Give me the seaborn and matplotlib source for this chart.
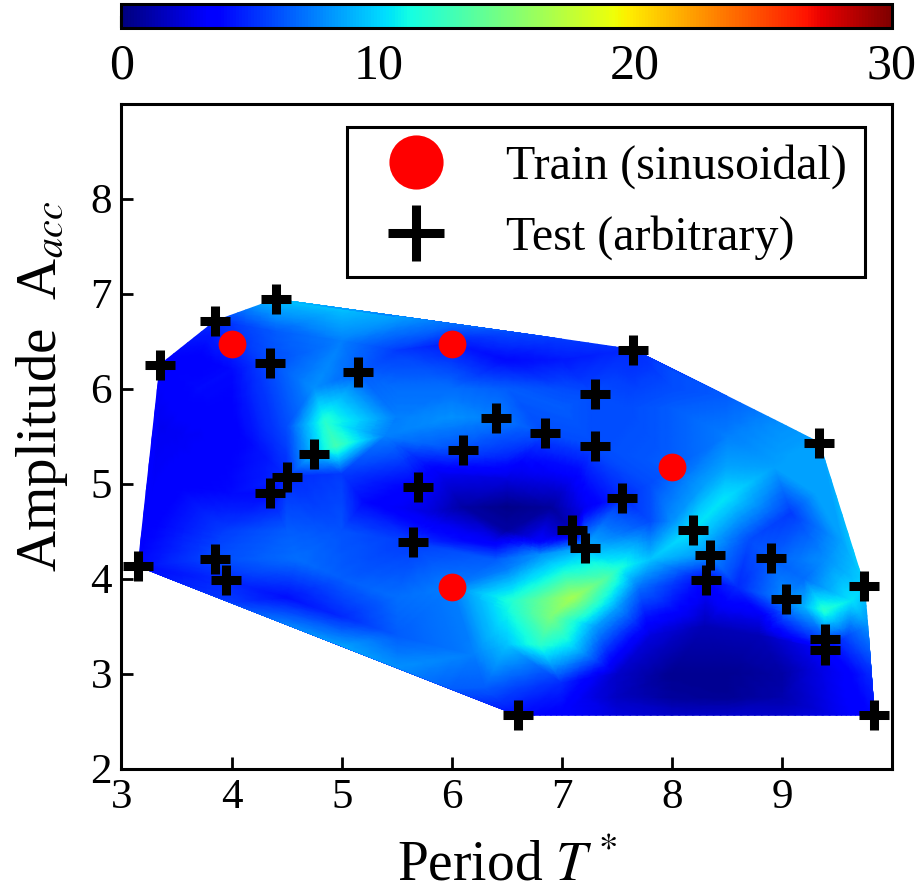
import matplotlib
matplotlib.use("Agg")
import matplotlib.pyplot as plt
import matplotlib.tri as mtri
import numpy as np
import pandas as pd
import seaborn as sns
from matplotlib.lines import Line2D

# Train / test points, with the field value read at each of them
train_x = [4.0, 6.0, 8.0, 6.0]
train_y = [6.47, 6.47, 5.17, 3.91]
train_val = [5.0, 4.5, 6.5, 7.5]

test_x = [4.40, 3.85, 3.35, 4.35, 5.15, 6.40, 4.75, 6.10, 4.50, 4.35, 5.69,
          5.65, 3.85, 3.15, 3.95, 6.60, 7.65, 7.30, 6.85, 7.30, 9.34, 7.55,
          7.09, 7.21, 8.19, 8.35, 8.90, 8.31, 9.04, 9.75, 9.39, 9.39, 9.84]
test_y = [6.94, 6.71, 6.25, 6.27, 6.17, 5.69, 5.31, 5.35, 5.07, 4.90, 4.96,
          4.38, 4.21, 4.13, 3.98, 2.56, 6.41, 5.94, 5.53, 5.40, 5.43, 4.85,
          4.51, 4.32, 4.51, 4.25, 4.22, 3.98, 3.78, 3.92, 3.36, 3.25, 2.56]
test_val = [9.5, 5.0, 3.5, 6.0, 6.5, 7.5, 9.5, 6.0, 5.0, 4.0, 3.5,
            5.5, 6.0, 4.0, 5.0, 4.0, 5.0, 6.0, 6.0, 6.0, 8.5, 5.0,
            1.5, 9.0, 10.5, 8.0, 6.5, 3.8, 8.0, 10.0, 6.0, 3.5, 4.0]

# Extra readings of the colour field between the points
extra_x = [4.85, 4.95, 4.5, 5.4, 4.75, 5.0, 3.6, 3.5, 4.0, 3.7, 3.35, 3.25,
           4.0, 3.9, 4.5, 4.6, 4.0, 4.5, 5.0, 5.5, 6.0, 4.5, 5.0, 5.5, 5.0,
           5.5, 5.0, 5.2, 6.5, 6.5, 6.2, 6.3, 6.5, 7.1, 6.9, 6.8, 6.57, 7.53,
           7.4, 6.4, 6.8, 6.8, 6.4, 7.0, 7.1, 7.3, 7.5, 7.7, 7.5, 8.0, 8.5,
           9.0, 7.8, 8.3, 8.8, 9.3, 9.6, 7.0, 7.2, 7.0, 7.5, 8.0, 8.5, 9.0,
           9.5, 8.0, 8.5, 9.0, 7.5, 8.47, 8.0, 8.93, 9.3, 9.08, 9.54, 9.4,
           8.5, 8.0, 7.8, 8.0, 8.5, 9.0, 8.5, 8.3, 7.8, 7.8, 9.38, 9.63,
           9.78, 9.81, 9.6, 9.6, 9.2, 9.2, 8.6, 8.7, 8.8, 6.5, 6.1, 6.9, 6.5,
           6.5, 5.8, 7.2, 6.5, 5.9, 5.0, 5.5, 6.0, 6.5, 7.0, 5.0, 5.5, 6.5,
           7.0, 7.0, 6.5, 6.0, 5.5, 5.5, 6.0, 7.0, 7.6, 8.0, 4.0, 3.7, 4.4]
extra_y = [5.65, 5.4, 5.6, 5.5, 6.0, 5.1, 5.5, 5.0, 5.6, 6.0, 5.6, 4.6,
           4.9, 4.5, 4.5, 4.2, 3.75, 3.52, 3.29, 3.07, 2.84, 3.8, 3.6, 3.4,
           4.0, 3.8, 4.5, 4.8, 3.64, 3.3, 3.2, 2.85, 4.1, 3.8, 3.6, 3.3, 3.77,
           4.12, 4.0, 4.4, 4.4, 4.25, 4.2, 4.1, 3.28, 3.5, 3.7, 3.9, 3.0, 3.0,
           3.0, 3.0, 3.4, 3.5, 3.4, 3.05, 3.0, 2.9, 2.75, 2.56, 2.56, 2.56,
           2.56, 2.56, 2.56, 2.75, 2.75, 2.75, 2.75, 4.83, 4.6, 5.17, 4.9,
           4.69, 4.4, 4.2, 5.5, 5.8, 5.0, 6.2, 5.92, 5.63, 5.2, 5.0, 4.6, 4.2,
           3.67, 3.77, 3.5, 3.0, 3.4, 2.9, 3.7, 4.0, 3.9, 4.4, 3.6, 4.75, 4.75,
           4.75, 4.5, 5.05, 4.7, 4.75, 5.3, 5.1, 6.84, 6.76, 6.68, 6.6, 6.52,
           6.5, 6.4, 6.3, 6.3, 6.0, 6.0, 6.0, 6.0, 5.7, 5.7, 5.8, 5.8, 6.0,
           6.2, 6.3, 6.6]
extra_val = [12.0, 13.0, 6.0, 7.5, 8.0, 5.5, 3.2, 3.5, 3.5, 4.0, 3.0, 3.5,
             4.0, 5.5, 6.5, 7.0, 5.5, 7.5, 8.5, 8.0, 6.5, 4.2, 5.0, 6.5,
             6.5, 7.0, 6.2, 4.0, 11.0, 9.5, 7.5, 6.5, 7.5, 16.5, 15.0, 12.0,
             12.0, 11.5, 13.5, 3.0, 3.5, 8.0, 6.5, 11.0, 10.0, 8.5, 8.5, 7.0,
             2.0, 0.5, 0.5, 1.0, 2.5, 1.5, 1.5, 2.5, 3.5, 5.0, 3.0, 3.5, 2.5,
             2.0, 2.0, 2.0, 3.0, 0.8, 0.6, 1.2, 1.8, 10.5, 8.0, 8.5, 8.5, 5.5,
             8.5, 8.0, 7.5, 6.5, 6.0, 6.0, 6.5, 8.0, 8.5, 8.5, 6.0, 9.5, 12.0,
             10.5, 8.0, 5.0, 6.0, 3.5, 9.0, 7.0, 5.0, 6.0, 3.0, 0.3, 1.0, 0.8,
             1.0, 2.5, 2.5, 3.0, 5.0, 3.0, 9.5, 8.5, 7.0, 6.0, 5.5, 7.5, 5.5,
             4.0, 4.5, 6.0, 6.5, 7.0, 7.0, 7.5, 8.0, 6.5, 6.0, 6.0, 4.0, 3.5,
             6.5]

x_ticks = [3, 4, 5, 6, 7, 8, 9]
y_ticks = [2, 3, 4, 5, 6, 7, 8]
cbar_ticks = [0, 10, 20, 30]

sns.set_theme(style="ticks")
plt.rcParams["font.family"] = ["Liberation Serif", "DejaVu Serif"]
plt.rcParams["mathtext.fontset"] = "stix"
plt.rcParams["text.color"] = "black"
plt.rcParams["axes.labelcolor"] = "black"
plt.rcParams["xtick.labelcolor"] = "black"
plt.rcParams["ytick.labelcolor"] = "black"

field_x = np.array(train_x + test_x + extra_x)
field_y = np.array(train_y + test_y + extra_y)
field_val = np.array(train_val + test_val + extra_val)

train = pd.DataFrame({"x": train_x, "y": train_y})
test = pd.DataFrame({"x": test_x, "y": test_y})

fig = plt.figure(figsize=(9.2, 8.92), dpi=100)
ax = fig.add_axes([121.5 / 920, 1 - 768.5 / 892, 770.5 / 920, 665 / 892])
cax = fig.add_axes([121.5 / 920, 1 - 27.5 / 892, 770.5 / 920, 23.5 / 892])

# Colour field, refined so the colours go through the colormap, not between vertex RGBs
triang = mtri.Triangulation(field_x, field_y)
refiner = mtri.UniformTriRefiner(triang)
linear = mtri.LinearTriInterpolator(triang, field_val)
fine_tri, fine_val = refiner.refine_field(field_val, triinterpolator=linear, subdiv=3)
mesh = ax.tripcolor(fine_tri, fine_val, shading="gouraud", cmap="jet", vmin=0, vmax=30)

# Points
sns.scatterplot(data=train, x="x", y="y", color="#ff0000", marker="o", s=400,
                linewidth=0, ax=ax, zorder=3, legend=False)
sns.scatterplot(data=test, x="x", y="y", color="black", marker="+", s=441,
                linewidth=6.5, ax=ax, zorder=4, legend=False, clip_on=False)

ax.set_xlim(3, 10)
ax.set_ylim(2, 9)
ax.set_xticks(x_ticks)
ax.set_yticks(y_ticks)
ax.tick_params(direction="in", length=8.5, width=2, labelsize=31, pad=7, color="black")
ax.set_xlabel(r"Period $T^*$", fontsize=40, labelpad=17)
ax.set_ylabel(r"Amplitude  A$_{acc}$", fontsize=41)
ax.yaxis.set_label_coords(-0.0668, 0.575)
for spine in ax.spines.values():
    spine.set_linewidth(2.2)
    spine.set_color("black")

# Legend with larger markers than the data
handles = [
    Line2D([], [], color="none", marker="o", markerfacecolor="#ff0000",
           markeredgewidth=0, markersize=39),
    Line2D([], [], color="none", marker="+", markeredgecolor="black",
           markeredgewidth=6.5, markersize=41),
]
leg = ax.legend(handles, ["Train (sinusoidal)", "Test (arbitrary)"], fontsize=34.6,
                loc="upper right", bbox_to_anchor=(0.9645, 0.9645), borderaxespad=0,
                frameon=True, fancybox=False, framealpha=1, edgecolor="black",
                labelspacing=0.54, handletextpad=0.8, handlelength=2.15, borderpad=0.36)
leg.get_frame().set_linewidth(2.2)

# Colour bar
cbar = fig.colorbar(mesh, cax=cax, orientation="horizontal", ticks=cbar_ticks)
cbar.ax.tick_params(direction="in", length=8.5, width=1.5, labelsize=36, pad=11, color="black")
cbar.outline.set_linewidth(2.2)
cbar.outline.set_edgecolor("black")

plt.savefig("out.png", dpi=100)
plt.close()
